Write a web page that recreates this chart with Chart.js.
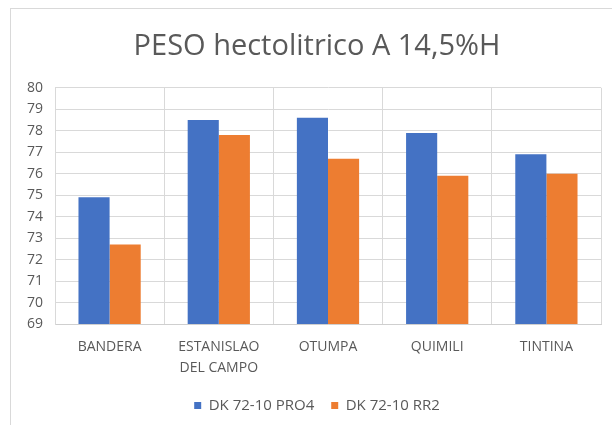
<!DOCTYPE html>
<html>
<head>
<meta charset="utf-8">
<script src="https://cdn.jsdelivr.net/npm/chart.js"></script>
<style>
    html, body { margin: 0; padding: 0; background: #fff; overflow: hidden; }
    .wrap { position: relative; width: 612px; height: 425px; }
    .marco { position: absolute; left: 10px; top: 8px; width: 700px; height: 500px;
             border: 1px solid #d9d9d9; pointer-events: none; }
    canvas { position: absolute; left: 0; top: 0; }
</style>
</head>
<body>
<div class="wrap">
    <canvas id="peso-chart" width="612" height="425"></canvas>
    <div class="marco"></div>
</div>

<script>
    // Datos
    var localidades = ['BANDERA', ['ESTANISLAO', 'DEL CAMPO'], 'OTUMPA', 'QUIMILI', 'TINTINA'];
    var pesoPro4 = [74.9, 78.5, 78.6, 77.9, 76.9];
    var pesoRr2 = [72.7, 77.8, 76.7, 75.9, 76.0];
    var ejeMin = 69;
    var ejeMax = 80;

    var gris = '#595959';
    var grilla = '#d9d9d9';

    var ctx = document.getElementById('peso-chart').getContext('2d');

    var pesoChart = new Chart(ctx, {
        type: 'bar',
        data: {
            labels: localidades,
            datasets: [{
                label: 'DK 72-10 PRO4',
                data: pesoPro4,
                backgroundColor: '#4472C4'
            }, {
                label: 'DK 72-10 RR2',
                data: pesoRr2,
                backgroundColor: '#ED7D31'
            }]
        },
        options: {
            responsive: false,
            animation: false,
            layout: { padding: { left: 33, right: 11, top: 0, bottom: 2 } },
            datasets: {
                bar: { barPercentage: 1, categoryPercentage: 0.57 }
            },
            plugins: {
                title: {
                    display: true,
                    text: 'PESO hectolitrico A 14,5%H',
                    color: gris,
                    font: { family: 'Open Sans', size: 29, weight: 'normal' },
                    padding: { top: 29, bottom: 24 }
                },
                legend: {
                    position: 'bottom',
                    labels: {
                        color: gris,
                        font: { family: 'Open Sans', size: 15 },
                        boxWidth: 7,
                        boxHeight: 7,
                        padding: 17
                    }
                },
                tooltip: { enabled: false }
            },
            scales: {
                x: {
                    grid: { color: grilla, drawTicks: false },
                    border: { color: '#cfcfcf' },
                    ticks: {
                        color: gris,
                        font: { family: 'Open Sans', size: 14, lineHeight: 1.5 },
                        padding: 13,
                        maxRotation: 0
                    },
                    afterFit: function (escala) { escala.height -= 11; }
                },
                y: {
                    min: ejeMin,
                    max: ejeMax,
                    grid: { color: grilla, drawTicks: false },
                    border: { color: grilla },
                    ticks: {
                        stepSize: 1,
                        color: gris,
                        font: { family: 'Open Sans', size: 14 },
                        padding: 12
                    },
                    afterFit: function (escala) {
                        escala.width = 22;
                        // las etiquetas quedan fuera del eje angosto, no recortarlas
                        escala._computeLabelArea = function () { return undefined; };
                    }
                }
            }
        }
    });
</script>
</body>
</html>
